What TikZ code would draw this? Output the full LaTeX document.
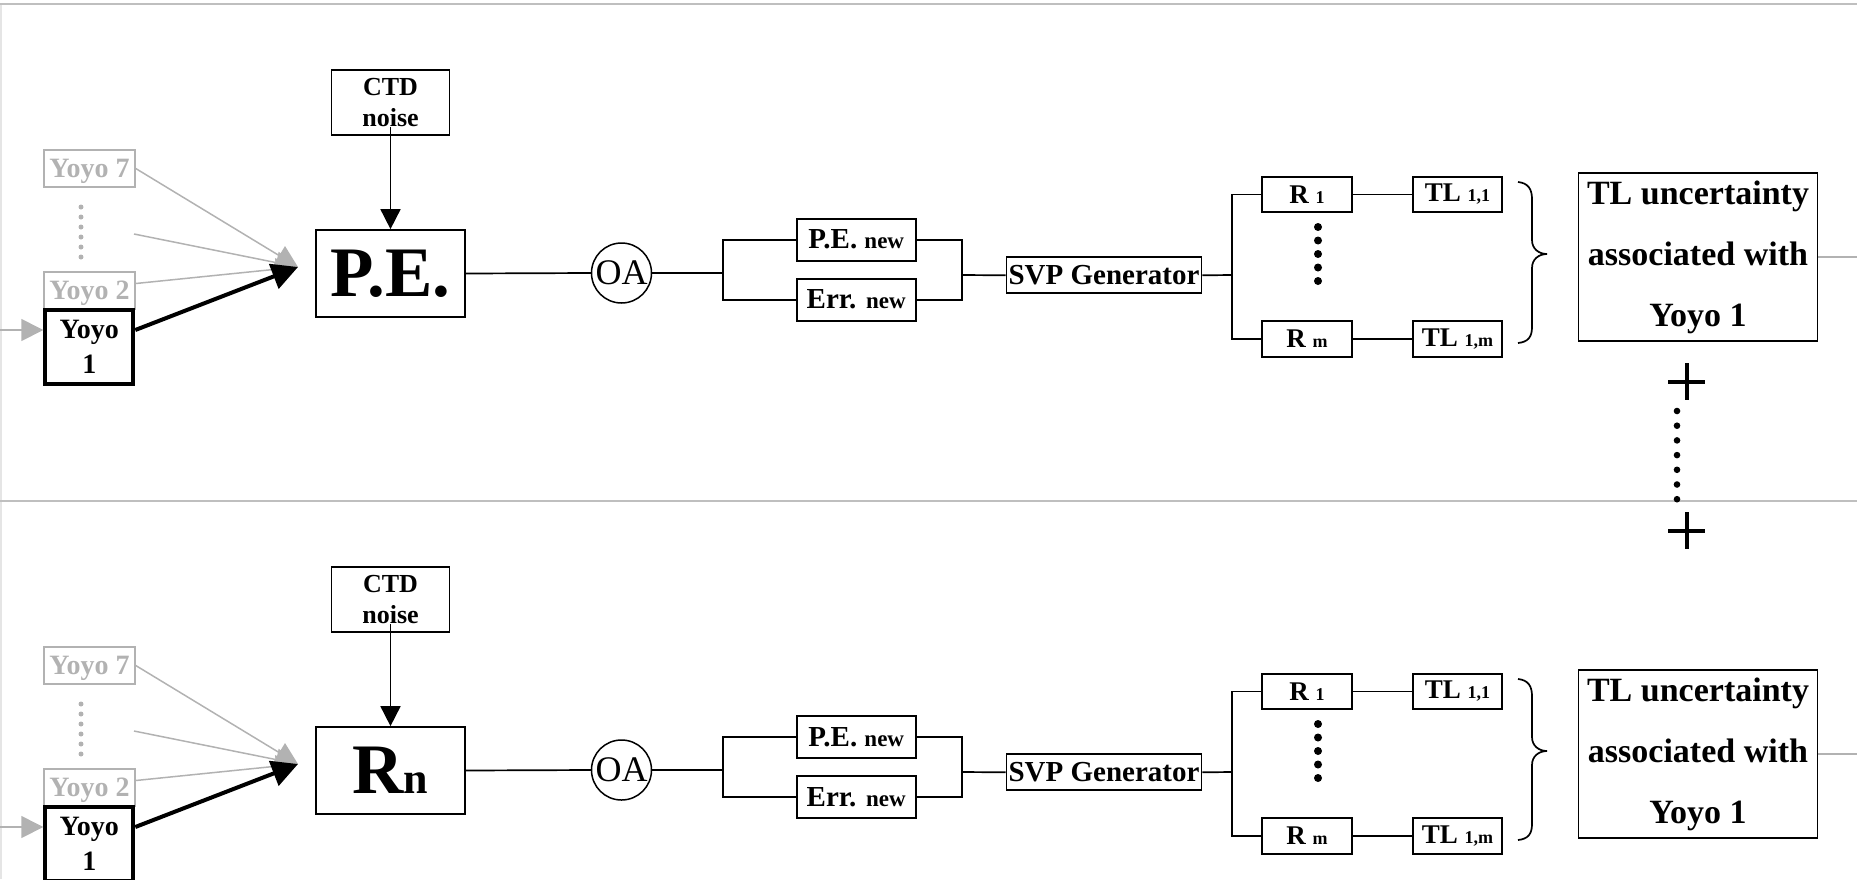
\documentclass[tikz,border=0pt]{standalone}
\usepackage{fontspec}
\setmainfont{Liberation Serif}
\usetikzlibrary{arrows.meta}
\newcommand{\fsz}[2]{\fontsize{#1}{#2}\selectfont}

\begin{document}
\begin{tikzpicture}[x=1pt,y=-1pt,
  box/.style={draw,line width=1.7pt,inner sep=0pt,align=center},
  ghost/.style={draw=black!30,text=black!30,line width=1.5pt,inner sep=0pt,text depth=0pt,font=\bfseries\fsz{28}{34}},
  wire/.style={line width=1.7pt},
  feed/.style={draw=black!30,line width=1.5pt,-{Triangle[length=22pt,width=22pt]}},
  rule/.style={draw=black!25,line width=2pt}]
\useasboundingbox (0,0) rectangle (1857,879);
\clip (0,0) rectangle (1857,879);
\draw[black!10,line width=1.5pt] (0.75,4) -- (0.75,879);

\foreach \r/\oy/\pelab in {1/0/{P.E.},2/497/{R\fsz{44}{44}n}}{
\begin{scope}[yshift=-\oy pt]
\draw[rule] (0,4) -- (1857,4);

% yoyos feeding the first block
\node[ghost,minimum width=91pt,minimum height=37pt] (yoyo7\r) at (89.5,168.5) {Yoyo 7};
\foreach \k in {0,...,5} \fill[black!30] (81,207+10*\k) circle (2.5pt);
\node[ghost,minimum width=91pt,minimum height=37pt] (yoyo2\r) at (89.5,290.5) {Yoyo 2};
\node[box,fill=white,line width=4pt,minimum width=88pt,minimum height=73.5pt,font=\bfseries\fsz{28}{35}] (yoyo1\r) at (89.3,347) {Yoyo\\1};
\coordinate (tip\r) at (298,267);
\coordinate (mid\r) at (134,234);
\coordinate (in\r) at (0,330);
\draw[feed] (yoyo7\r.east) -- (tip\r);
\draw[feed] (mid\r) -- (tip\r);
\draw[feed] ([yshift=7pt]yoyo2\r.east) -- (tip\r);
\draw[feed] (in\r) -- (in\r -| yoyo1\r.west);
\draw[line width=4pt,-{Triangle[length=26pt,width=26pt]}] (in\r -| yoyo1\r.east) -- (tip\r);

\node[box,minimum width=118pt,minimum height=65pt,font=\bfseries\fsz{26}{31}] (ctd\r) at (390.5,102.5) {CTD\\noise};
\node[box,minimum width=149pt,minimum height=87pt,font=\bfseries\fsz{71}{71}] (pe\r) at (390.5,273.5) {\pelab};
\draw[wire,-{Triangle[length=20pt,width=20pt]}] ([yshift=9pt]ctd\r.south) -- (pe\r.north);

\node[draw,circle,line width=1.5pt,minimum size=60pt,inner sep=0pt,font=\fsz{36}{36}] (oa\r) at (621.5,273) {OA};
\draw[wire] (pe\r.east) -- (oa\r.west);

\node[box,minimum width=119pt,minimum height=42pt] (pnew\r) at (856.2,239.7) {\bfseries\fsz{29}{29}P.E. \fsz{23}{23}new};
\node[box,minimum width=119pt,minimum height=42pt] (enew\r) at (856.2,299.7) {\bfseries\fsz{29}{29}Err. \fsz{23}{23}new};
\coordinate (split\r) at (723,273);
\draw[wire] (oa\r.east) -- (split\r);
\draw[wire] (pnew\r.west) -| (split\r) |- (enew\r.west);
\coordinate (join\r) at (961.7,275);
\draw[wire] (pnew\r.east) -| (join\r) |- (enew\r.east);

\node[box,minimum width=195pt,minimum height=36pt,font=\bfseries\fsz{29}{29}] (svp\r) at (1104,275.3) {SVP Generator};
\draw[wire] (join\r) -- (svp\r.west);

% ray paths and their TLs
\node[box,minimum width=90pt,minimum height=35.5pt] (r1\r) at (1307,194.5) {\bfseries\fsz{27}{27}R \fsz{18}{18}1};
\node[box,minimum width=90pt,minimum height=35.5pt] (rm\r) at (1307,339) {\bfseries\fsz{27}{27}R \fsz{18}{18}m};
\node[box,minimum width=89.5pt,minimum height=35.5pt] (tla\r) at (1457.5,194.5) {\bfseries\fsz{27}{27}TL \fsz{18}{18}1,1};
\node[box,minimum width=89.5pt,minimum height=35.5pt] (tlm\r) at (1457.5,339) {\bfseries\fsz{27}{27}TL \fsz{18}{18}1,m};
\coordinate (fork\r) at (1232,275);
\draw[wire] (svp\r.east) -- (fork\r);
\draw[wire] (r1\r.west) -| (fork\r) |- (rm\r.west);
\draw[wire] (r1\r) -- (tla\r);
\draw[wire] (rm\r) -- (tlm\r);
\foreach \k in {0,...,4} \fill (1318,227+13.5*\k) circle (4pt);
\draw[wire] (1518,182) .. controls (1528,183) and (1532,189) .. (1532,199) -- (1532,240)
  .. controls (1532,249) and (1539,254) .. (1547,254)
  .. controls (1539,254) and (1532,259) .. (1532,268) -- (1532,327)
  .. controls (1532,337) and (1528,342) .. (1518,343);

\node[box,minimum width=239pt,minimum height=168pt,font=\bfseries\fsz{34}{61}] (unc\r) at (1698,257) {TL uncertainty\\associated with\\Yoyo 1};
\coordinate (out\r) at (1857,257);
\draw[black!30,line width=1.5pt] (unc\r.east) -- (out\r);
\end{scope}
}

% sum over the yoyos
\draw[line width=4pt] (1668,381.5) -- (1705,381.5) (1686.5,363) -- (1686.5,400);
\foreach \k in {0,...,6} \fill (1677,411+14.7*\k) circle (3.3pt);
\draw[line width=4pt] (1668,530.5) -- (1705,530.5) (1686.5,512) -- (1686.5,549);
\end{tikzpicture}
\end{document}
